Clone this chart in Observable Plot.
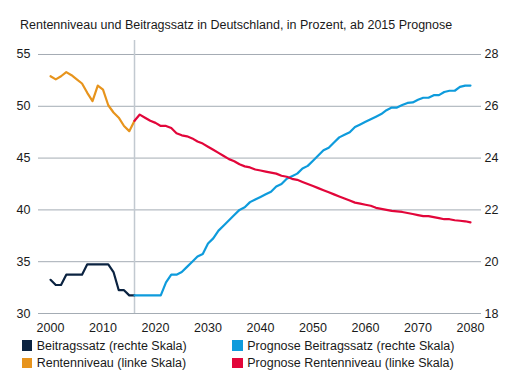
<!DOCTYPE html>
<html><head><meta charset="utf-8">
<script src="https://cdn.jsdelivr.net/npm/d3@7"></script>
<script src="https://cdn.jsdelivr.net/npm/@observablehq/plot@0.6"></script>
<style>
body{margin:0;background:#fff;font-family:"Liberation Sans",Arial,sans-serif;color:#1a1a1a;}
#title{font-size:12.5px;line-height:14px;height:18px;padding:18px 0 0 20px;white-space:nowrap;}
#chart svg{display:block;}
#legend{display:grid;grid-template-columns:210.6px auto;grid-auto-rows:17.3px;padding-left:21.7px;font-size:12.5px;}
#legend .item{display:flex;align-items:center;white-space:nowrap;}
#legend .sw{width:10.6px;height:10.6px;margin-right:4.4px;flex:none;}
</style></head><body>
<div id="title">Rentenniveau und Beitragssatz in Deutschland, in Prozent, ab 2015 Prognose</div>
<div id="chart"></div>
<div id="legend"></div>
<script>
// ---- data ----
const histYears = d3.range(2000, 2017);           // 2000–2016
const progYears = d3.range(2016, 2081);           // 2016–2080

const rentenniveau = [52.9, 52.6, 52.9, 53.3, 53.0, 52.6, 52.2, 51.3, 50.5, 52.0, 51.6, 50.1, 49.4, 48.9, 48.1, 47.6, 48.6];
const beitragssatz = [19.3, 19.1, 19.1, 19.5, 19.5, 19.5, 19.5, 19.9, 19.9, 19.9, 19.9, 19.9, 19.6, 18.9, 18.9, 18.7, 18.7];

const prognoseRentenniveau = [
  48.6, 49.2, 48.9, 48.6, 48.4, 48.1, 48.1, 47.9, 47.4, 47.2,
  47.1, 46.9, 46.6, 46.4, 46.1, 45.8, 45.5, 45.2, 44.9, 44.7,
  44.4, 44.2, 44.1, 43.9, 43.8, 43.7, 43.6, 43.5, 43.3, 43.2,
  43.0, 42.9, 42.7, 42.5, 42.3, 42.1, 41.9, 41.7, 41.5, 41.3,
  41.1, 40.9, 40.7, 40.6, 40.5, 40.4, 40.2, 40.1, 40.0, 39.9,
  39.85, 39.8, 39.7, 39.6, 39.5, 39.4, 39.4, 39.3, 39.2, 39.1,
  39.1, 39.0, 38.95, 38.9, 38.8
];
const prognoseBeitragssatz = [
  18.7, 18.7, 18.7, 18.7, 18.7, 18.7, 19.2, 19.5, 19.5, 19.6,
  19.8, 20.0, 20.2, 20.3, 20.7, 20.9, 21.2, 21.4, 21.6, 21.8,
  22.0, 22.1, 22.3, 22.4, 22.5, 22.6, 22.7, 22.9, 23.0, 23.2,
  23.3, 23.4, 23.6, 23.7, 23.9, 24.1, 24.3, 24.4, 24.6, 24.8,
  24.9, 25.0, 25.2, 25.3, 25.4, 25.5, 25.6, 25.7, 25.85, 25.95,
  25.95, 26.05, 26.13, 26.15, 26.25, 26.33, 26.33, 26.43, 26.43, 26.55,
  26.6, 26.6, 26.75, 26.8, 26.8
];

const leftTicks = [30, 35, 40, 45, 50, 55];
const rightTicks = [18, 20, 22, 24, 26, 28];
const xTicks = [2000, 2010, 2020, 2030, 2040, 2050, 2060, 2070, 2080];
const prognoseStart = [2016];

const legendLabels = ["Beitragssatz (rechte Skala)", "Prognose Beitragssatz (rechte Skala)", "Rentenniveau (linke Skala)", "Prognose Rentenniveau (linke Skala)"];
const legendColors = ["#0b2341", "#0e9bdc", "#e7941d", "#e2063a"];

// right scale (18–28) mapped onto left scale (30–55)
const toLeft = r => 30 + (r - 18) * 2.5;
const toRight = l => 18 + (l - 30) / 2.5;

const hist = histYears.map((y, i) => ({year: y, rn: rentenniveau[i], bs: toLeft(beitragssatz[i])}));
const prog = progYears.map((y, i) => ({year: y, rn: prognoseRentenniveau[i], bs: toLeft(prognoseBeitragssatz[i])}));

const gridColor = "#a4acb4";
const sw = 2.2;

const chart = Plot.plot({
  width: 518,
  height: 301,
  marginTop: 4,
  marginBottom: 24,
  marginLeft: 38,
  marginRight: 37,
  style: {fontFamily: '"Liberation Sans", Arial, sans-serif', fontSize: "12.5px", color: "#1a1a1a", background: "#fff"},
  x: {domain: [1997.71, 2082.1]},
  y: {domain: [30, 56.35]},
  marks: [
    Plot.ruleY(leftTicks, {stroke: gridColor, strokeWidth: 1}),
    Plot.ruleX(prognoseStart, {stroke: "#c2c9d0", strokeWidth: 1.5}),
    Plot.line(hist, {x: "year", y: "bs", stroke: legendColors[0], strokeWidth: sw}),
    Plot.line(prog, {x: "year", y: "bs", stroke: legendColors[1], strokeWidth: sw}),
    Plot.line(hist, {x: "year", y: "rn", stroke: legendColors[2], strokeWidth: sw}),
    Plot.line(prog, {x: "year", y: "rn", stroke: legendColors[3], strokeWidth: sw}),
    Plot.axisY(leftTicks, {anchor: "left", tickSize: 0, tickPadding: 8, label: null, fill: "#1a1a1a", fontSize: 12.5}),
    Plot.axisY(rightTicks.map(toLeft), {anchor: "right", tickSize: 0, tickPadding: 3, label: null, tickFormat: d => String(Math.round(toRight(d))), fill: "#1a1a1a", fontSize: 12.5}),
    Plot.axisX(xTicks, {anchor: "bottom", tickSize: 0, tickPadding: 10, label: null, tickFormat: d => String(d), fill: "#1a1a1a", fontSize: 12.5})
  ]
});
document.getElementById("chart").appendChild(chart);

const legend = document.getElementById("legend");
legendLabels.forEach((lab, i) => {
  const it = document.createElement("div");
  it.className = "item";
  const s = document.createElement("span");
  s.className = "sw";
  s.style.background = legendColors[i];
  const t = document.createElement("span");
  t.textContent = lab;
  it.appendChild(s); it.appendChild(t);
  legend.appendChild(it);
});
</script>
</body></html>
